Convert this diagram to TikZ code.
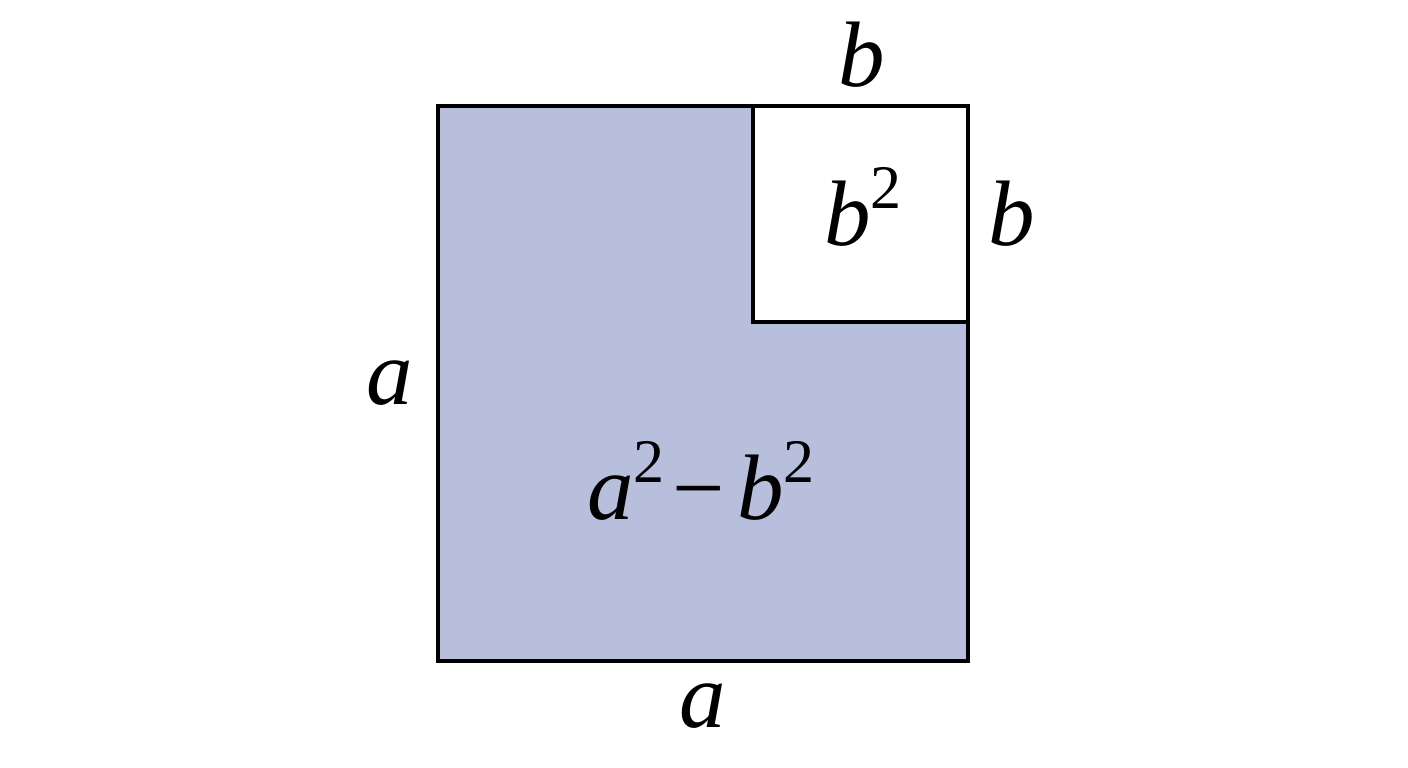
\documentclass[tikz,border=0pt]{standalone}
\usepackage{fontspec}
\setmainfont{Liberation Serif}
\definecolor{areafill}{RGB}{183,191,221}
\newcommand{\sq}[1]{\textit{#1}\raisebox{0.40em}{\fontsize{62}{64}\selectfont\upshape 2}}
\begin{document}
\begin{tikzpicture}[x=1pt,y=1pt,
  edge/.style={draw=black,line width=3.8pt},
  lbl/.style={inner sep=0pt,anchor=base,font=\fontsize{93}{98}\selectfont\itshape}]
\useasboundingbox (0,0) rectangle (1408,768);
\fill[white] (0,0) rectangle (1408,768);
\coordinate (BL) at (438,107);
\coordinate (TR) at (968,662);
\coordinate (SBL) at (753,446);
\path[edge,fill=areafill] (BL) rectangle (TR);
\path[edge,fill=white] (SBL) rectangle (TR);
\node[lbl] (btop) at (862,681) {b};
\node[lbl] (bright) at (1012,522) {b};
\node[lbl] (aleft) at (390,363) {a};
\node[lbl] (abottom) at (703,40) {a};
\node[lbl] (bsq) at (863,522) {\sq{b}};
\node[lbl] (diff) at (701,248) {\sq{a}\hspace{8pt}{\upshape −}\hspace{12pt}\sq{b}};
\end{tikzpicture}
\end{document}
